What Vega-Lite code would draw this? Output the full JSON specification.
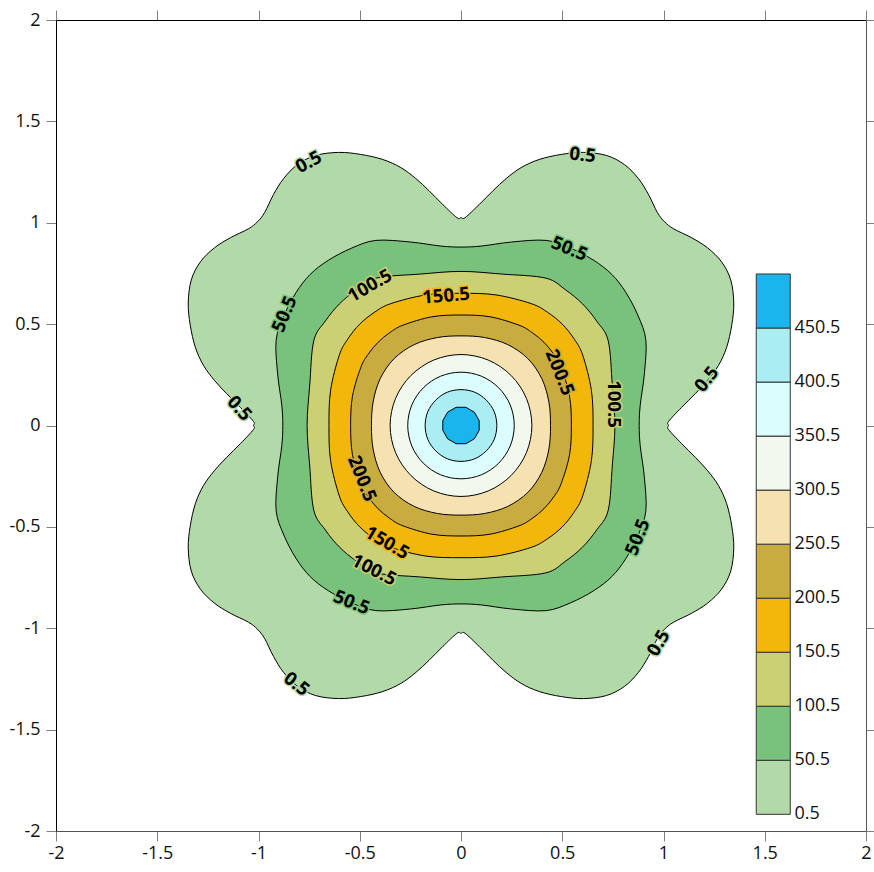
{
"$schema": "https://vega.github.io/schema/vega-lite/v6.json",
"width": 810, "height": 811,
"autosize": {"type": "none"},
"padding": {"left": 56, "top": 20, "right": 8, "bottom": 41},
"background": "white",
"config": {"view": {"stroke": null}, "font": "Open Sans",
  "axis": {"grid": false, "labelFont": "Open Sans", "labelFontSize": 18, "labelColor": "#111", "tickColor": "#808080", "tickSize": 10, "domainColor": "#000", "domainWidth": 1, "title": null}},
"datasets": {
"contours": [
{"l":0.5,"i":0,"x":1.025,"y":0},{"l":0.5,"i":1,"x":1.025,"y":0.02},{"l":0.5,"i":2,"x":1.089,"y":0.089},{"l":0.5,"i":3,"x":1.158,"y":0.158},{"l":0.5,"i":4,"x":1.218,"y":0.223},{"l":0.5,"i":5,"x":1.272,"y":0.297},{"l":0.5,"i":6,"x":1.312,"y":0.386},{"l":0.5,"i":7,"x":1.337,"y":0.495},{"l":0.5,"i":8,"x":1.347,"y":0.604},{"l":0.5,"i":9,"x":1.332,"y":0.718},{"l":0.5,"i":10,"x":1.287,"y":0.807},{"l":0.5,"i":11,"x":1.218,"y":0.876},{"l":0.5,"i":12,"x":1.139,"y":0.926},{"l":0.5,"i":13,"x":1.05,"y":0.97},{"l":0.5,"i":14,"x":1.005,"y":1.005},
{"l":0.5,"i":15,"x":0.97,"y":1.05},{"l":0.5,"i":16,"x":0.926,"y":1.139},{"l":0.5,"i":17,"x":0.876,"y":1.218},{"l":0.5,"i":18,"x":0.807,"y":1.287},{"l":0.5,"i":19,"x":0.718,"y":1.332},{"l":0.5,"i":20,"x":0.604,"y":1.347},{"l":0.5,"i":21,"x":0.495,"y":1.337},{"l":0.5,"i":22,"x":0.386,"y":1.312},{"l":0.5,"i":23,"x":0.297,"y":1.272},{"l":0.5,"i":24,"x":0.223,"y":1.218},{"l":0.5,"i":25,"x":0.158,"y":1.158},{"l":0.5,"i":26,"x":0.089,"y":1.089},{"l":0.5,"i":27,"x":0.02,"y":1.025},{"l":0.5,"i":28,"x":0,"y":1.025},
{"l":0.5,"i":29,"x":-0.02,"y":1.025},{"l":0.5,"i":30,"x":-0.089,"y":1.089},{"l":0.5,"i":31,"x":-0.158,"y":1.158},{"l":0.5,"i":32,"x":-0.223,"y":1.218},{"l":0.5,"i":33,"x":-0.297,"y":1.272},{"l":0.5,"i":34,"x":-0.386,"y":1.312},{"l":0.5,"i":35,"x":-0.495,"y":1.337},{"l":0.5,"i":36,"x":-0.604,"y":1.347},{"l":0.5,"i":37,"x":-0.718,"y":1.332},{"l":0.5,"i":38,"x":-0.807,"y":1.287},{"l":0.5,"i":39,"x":-0.876,"y":1.218},{"l":0.5,"i":40,"x":-0.926,"y":1.139},{"l":0.5,"i":41,"x":-0.97,"y":1.05},{"l":0.5,"i":42,"x":-1.005,"y":1.005},
{"l":0.5,"i":43,"x":-1.05,"y":0.97},{"l":0.5,"i":44,"x":-1.139,"y":0.926},{"l":0.5,"i":45,"x":-1.218,"y":0.876},{"l":0.5,"i":46,"x":-1.287,"y":0.807},{"l":0.5,"i":47,"x":-1.332,"y":0.718},{"l":0.5,"i":48,"x":-1.347,"y":0.604},{"l":0.5,"i":49,"x":-1.337,"y":0.495},{"l":0.5,"i":50,"x":-1.312,"y":0.386},{"l":0.5,"i":51,"x":-1.272,"y":0.297},{"l":0.5,"i":52,"x":-1.218,"y":0.223},{"l":0.5,"i":53,"x":-1.158,"y":0.158},{"l":0.5,"i":54,"x":-1.089,"y":0.089},{"l":0.5,"i":55,"x":-1.025,"y":0.02},{"l":0.5,"i":56,"x":-1.025,"y":0},
{"l":0.5,"i":57,"x":-1.025,"y":-0.02},{"l":0.5,"i":58,"x":-1.089,"y":-0.089},{"l":0.5,"i":59,"x":-1.158,"y":-0.158},{"l":0.5,"i":60,"x":-1.218,"y":-0.223},{"l":0.5,"i":61,"x":-1.272,"y":-0.297},{"l":0.5,"i":62,"x":-1.312,"y":-0.386},{"l":0.5,"i":63,"x":-1.337,"y":-0.495},{"l":0.5,"i":64,"x":-1.347,"y":-0.604},{"l":0.5,"i":65,"x":-1.332,"y":-0.718},{"l":0.5,"i":66,"x":-1.287,"y":-0.807},{"l":0.5,"i":67,"x":-1.218,"y":-0.876},{"l":0.5,"i":68,"x":-1.139,"y":-0.926},{"l":0.5,"i":69,"x":-1.05,"y":-0.97},{"l":0.5,"i":70,"x":-1.005,"y":-1.005},
{"l":0.5,"i":71,"x":-0.97,"y":-1.05},{"l":0.5,"i":72,"x":-0.926,"y":-1.139},{"l":0.5,"i":73,"x":-0.876,"y":-1.218},{"l":0.5,"i":74,"x":-0.807,"y":-1.287},{"l":0.5,"i":75,"x":-0.718,"y":-1.332},{"l":0.5,"i":76,"x":-0.604,"y":-1.347},{"l":0.5,"i":77,"x":-0.495,"y":-1.337},{"l":0.5,"i":78,"x":-0.386,"y":-1.312},{"l":0.5,"i":79,"x":-0.297,"y":-1.272},{"l":0.5,"i":80,"x":-0.223,"y":-1.218},{"l":0.5,"i":81,"x":-0.158,"y":-1.158},{"l":0.5,"i":82,"x":-0.089,"y":-1.089},{"l":0.5,"i":83,"x":-0.02,"y":-1.025},{"l":0.5,"i":84,"x":0,"y":-1.025},
{"l":0.5,"i":85,"x":0.02,"y":-1.025},{"l":0.5,"i":86,"x":0.089,"y":-1.089},{"l":0.5,"i":87,"x":0.158,"y":-1.158},{"l":0.5,"i":88,"x":0.223,"y":-1.218},{"l":0.5,"i":89,"x":0.297,"y":-1.272},{"l":0.5,"i":90,"x":0.386,"y":-1.312},{"l":0.5,"i":91,"x":0.495,"y":-1.337},{"l":0.5,"i":92,"x":0.604,"y":-1.347},{"l":0.5,"i":93,"x":0.718,"y":-1.332},{"l":0.5,"i":94,"x":0.807,"y":-1.287},{"l":0.5,"i":95,"x":0.876,"y":-1.218},{"l":0.5,"i":96,"x":0.926,"y":-1.139},{"l":0.5,"i":97,"x":0.97,"y":-1.05},{"l":0.5,"i":98,"x":1.005,"y":-1.005},
{"l":0.5,"i":99,"x":1.05,"y":-0.97},{"l":0.5,"i":100,"x":1.139,"y":-0.926},{"l":0.5,"i":101,"x":1.218,"y":-0.876},{"l":0.5,"i":102,"x":1.287,"y":-0.807},{"l":0.5,"i":103,"x":1.332,"y":-0.718},{"l":0.5,"i":104,"x":1.347,"y":-0.604},{"l":0.5,"i":105,"x":1.337,"y":-0.495},{"l":0.5,"i":106,"x":1.312,"y":-0.386},{"l":0.5,"i":107,"x":1.272,"y":-0.297},{"l":0.5,"i":108,"x":1.218,"y":-0.223},{"l":0.5,"i":109,"x":1.158,"y":-0.158},{"l":0.5,"i":110,"x":1.089,"y":-0.089},{"l":0.5,"i":111,"x":1.025,"y":-0.02},
{"l":50.5,"i":0,"x":0.88,"y":0},{"l":50.5,"i":1,"x":0.885,"y":0.1},{"l":50.5,"i":2,"x":0.905,"y":0.25},{"l":50.5,"i":3,"x":0.913,"y":0.42},{"l":50.5,"i":4,"x":0.875,"y":0.54},{"l":50.5,"i":5,"x":0.815,"y":0.655},{"l":50.5,"i":6,"x":0.745,"y":0.745},
{"l":50.5,"i":7,"x":0.655,"y":0.815},{"l":50.5,"i":8,"x":0.54,"y":0.875},{"l":50.5,"i":9,"x":0.42,"y":0.913},{"l":50.5,"i":10,"x":0.25,"y":0.905},{"l":50.5,"i":11,"x":0.1,"y":0.885},{"l":50.5,"i":12,"x":0,"y":0.88},
{"l":50.5,"i":13,"x":-0.1,"y":0.885},{"l":50.5,"i":14,"x":-0.25,"y":0.905},{"l":50.5,"i":15,"x":-0.42,"y":0.913},{"l":50.5,"i":16,"x":-0.54,"y":0.875},{"l":50.5,"i":17,"x":-0.655,"y":0.815},{"l":50.5,"i":18,"x":-0.745,"y":0.745},
{"l":50.5,"i":19,"x":-0.815,"y":0.655},{"l":50.5,"i":20,"x":-0.875,"y":0.54},{"l":50.5,"i":21,"x":-0.913,"y":0.42},{"l":50.5,"i":22,"x":-0.905,"y":0.25},{"l":50.5,"i":23,"x":-0.885,"y":0.1},{"l":50.5,"i":24,"x":-0.88,"y":0},
{"l":50.5,"i":25,"x":-0.885,"y":-0.1},{"l":50.5,"i":26,"x":-0.905,"y":-0.25},{"l":50.5,"i":27,"x":-0.913,"y":-0.42},{"l":50.5,"i":28,"x":-0.875,"y":-0.54},{"l":50.5,"i":29,"x":-0.815,"y":-0.655},{"l":50.5,"i":30,"x":-0.745,"y":-0.745},
{"l":50.5,"i":31,"x":-0.655,"y":-0.815},{"l":50.5,"i":32,"x":-0.54,"y":-0.875},{"l":50.5,"i":33,"x":-0.42,"y":-0.913},{"l":50.5,"i":34,"x":-0.25,"y":-0.905},{"l":50.5,"i":35,"x":-0.1,"y":-0.885},{"l":50.5,"i":36,"x":0,"y":-0.88},
{"l":50.5,"i":37,"x":0.1,"y":-0.885},{"l":50.5,"i":38,"x":0.25,"y":-0.905},{"l":50.5,"i":39,"x":0.42,"y":-0.913},{"l":50.5,"i":40,"x":0.54,"y":-0.875},{"l":50.5,"i":41,"x":0.655,"y":-0.815},{"l":50.5,"i":42,"x":0.745,"y":-0.745},
{"l":50.5,"i":43,"x":0.815,"y":-0.655},{"l":50.5,"i":44,"x":0.875,"y":-0.54},{"l":50.5,"i":45,"x":0.913,"y":-0.42},{"l":50.5,"i":46,"x":0.905,"y":-0.25},{"l":50.5,"i":47,"x":0.885,"y":-0.1},
{"l":100.5,"i":0,"x":0.76,"y":0},{"l":100.5,"i":1,"x":0.747,"y":0.2},{"l":100.5,"i":2,"x":0.727,"y":0.418},{"l":100.5,"i":3,"x":0.67,"y":0.515},{"l":100.5,"i":4,"x":0.6,"y":0.6},{"l":100.5,"i":5,"x":0.515,"y":0.67},{"l":100.5,"i":6,"x":0.418,"y":0.727},{"l":100.5,"i":7,"x":0.2,"y":0.747},
{"l":100.5,"i":8,"x":0,"y":0.76},{"l":100.5,"i":9,"x":-0.2,"y":0.747},{"l":100.5,"i":10,"x":-0.418,"y":0.727},{"l":100.5,"i":11,"x":-0.515,"y":0.67},{"l":100.5,"i":12,"x":-0.6,"y":0.6},{"l":100.5,"i":13,"x":-0.67,"y":0.515},{"l":100.5,"i":14,"x":-0.727,"y":0.418},{"l":100.5,"i":15,"x":-0.747,"y":0.2},
{"l":100.5,"i":16,"x":-0.76,"y":0},{"l":100.5,"i":17,"x":-0.747,"y":-0.2},{"l":100.5,"i":18,"x":-0.727,"y":-0.418},{"l":100.5,"i":19,"x":-0.67,"y":-0.515},{"l":100.5,"i":20,"x":-0.6,"y":-0.6},{"l":100.5,"i":21,"x":-0.515,"y":-0.67},{"l":100.5,"i":22,"x":-0.418,"y":-0.727},{"l":100.5,"i":23,"x":-0.2,"y":-0.747},
{"l":100.5,"i":24,"x":0,"y":-0.76},{"l":100.5,"i":25,"x":0.2,"y":-0.747},{"l":100.5,"i":26,"x":0.418,"y":-0.727},{"l":100.5,"i":27,"x":0.515,"y":-0.67},{"l":100.5,"i":28,"x":0.6,"y":-0.6},{"l":100.5,"i":29,"x":0.67,"y":-0.515},{"l":100.5,"i":30,"x":0.727,"y":-0.418},{"l":100.5,"i":31,"x":0.747,"y":-0.2},
{"l":150.5,"i":0,"x":0.652,"y":0},{"l":150.5,"i":1,"x":0.644,"y":0.173},{"l":150.5,"i":2,"x":0.601,"y":0.347},{"l":150.5,"i":3,"x":0.558,"y":0.428},{"l":150.5,"i":4,"x":0.5,"y":0.5},{"l":150.5,"i":5,"x":0.428,"y":0.558},{"l":150.5,"i":6,"x":0.347,"y":0.601},{"l":150.5,"i":7,"x":0.173,"y":0.644},
{"l":150.5,"i":8,"x":0,"y":0.652},{"l":150.5,"i":9,"x":-0.173,"y":0.644},{"l":150.5,"i":10,"x":-0.347,"y":0.601},{"l":150.5,"i":11,"x":-0.428,"y":0.558},{"l":150.5,"i":12,"x":-0.5,"y":0.5},{"l":150.5,"i":13,"x":-0.558,"y":0.428},{"l":150.5,"i":14,"x":-0.601,"y":0.347},{"l":150.5,"i":15,"x":-0.644,"y":0.173},
{"l":150.5,"i":16,"x":-0.652,"y":0},{"l":150.5,"i":17,"x":-0.644,"y":-0.173},{"l":150.5,"i":18,"x":-0.601,"y":-0.347},{"l":150.5,"i":19,"x":-0.558,"y":-0.428},{"l":150.5,"i":20,"x":-0.5,"y":-0.5},{"l":150.5,"i":21,"x":-0.428,"y":-0.558},{"l":150.5,"i":22,"x":-0.347,"y":-0.601},{"l":150.5,"i":23,"x":-0.173,"y":-0.644},
{"l":150.5,"i":24,"x":0,"y":-0.652},{"l":150.5,"i":25,"x":0.173,"y":-0.644},{"l":150.5,"i":26,"x":0.347,"y":-0.601},{"l":150.5,"i":27,"x":0.428,"y":-0.558},{"l":150.5,"i":28,"x":0.5,"y":-0.5},{"l":150.5,"i":29,"x":0.558,"y":-0.428},{"l":150.5,"i":30,"x":0.601,"y":-0.347},{"l":150.5,"i":31,"x":0.644,"y":-0.173},
{"l":200.5,"i":0,"x":0.545,"y":0},{"l":200.5,"i":1,"x":0.536,"y":0.144},{"l":200.5,"i":2,"x":0.495,"y":0.286},{"l":200.5,"i":3,"x":0.458,"y":0.352},{"l":200.5,"i":4,"x":0.41,"y":0.41},{"l":200.5,"i":5,"x":0.352,"y":0.458},{"l":200.5,"i":6,"x":0.286,"y":0.495},{"l":200.5,"i":7,"x":0.144,"y":0.536},
{"l":200.5,"i":8,"x":0,"y":0.545},{"l":200.5,"i":9,"x":-0.144,"y":0.536},{"l":200.5,"i":10,"x":-0.286,"y":0.495},{"l":200.5,"i":11,"x":-0.352,"y":0.458},{"l":200.5,"i":12,"x":-0.41,"y":0.41},{"l":200.5,"i":13,"x":-0.458,"y":0.352},{"l":200.5,"i":14,"x":-0.495,"y":0.286},{"l":200.5,"i":15,"x":-0.536,"y":0.144},
{"l":200.5,"i":16,"x":-0.545,"y":0},{"l":200.5,"i":17,"x":-0.536,"y":-0.144},{"l":200.5,"i":18,"x":-0.495,"y":-0.286},{"l":200.5,"i":19,"x":-0.458,"y":-0.352},{"l":200.5,"i":20,"x":-0.41,"y":-0.41},{"l":200.5,"i":21,"x":-0.352,"y":-0.458},{"l":200.5,"i":22,"x":-0.286,"y":-0.495},{"l":200.5,"i":23,"x":-0.144,"y":-0.536},
{"l":200.5,"i":24,"x":0,"y":-0.545},{"l":200.5,"i":25,"x":0.144,"y":-0.536},{"l":200.5,"i":26,"x":0.286,"y":-0.495},{"l":200.5,"i":27,"x":0.352,"y":-0.458},{"l":200.5,"i":28,"x":0.41,"y":-0.41},{"l":200.5,"i":29,"x":0.458,"y":-0.352},{"l":200.5,"i":30,"x":0.495,"y":-0.286},{"l":200.5,"i":31,"x":0.536,"y":-0.144},
{"l":250.5,"i":0,"x":0.442,"y":0},{"l":250.5,"i":1,"x":0.434,"y":0.116},{"l":250.5,"i":2,"x":0.399,"y":0.231},{"l":250.5,"i":3,"x":0.33,"y":0.33},{"l":250.5,"i":4,"x":0.231,"y":0.399},{"l":250.5,"i":5,"x":0.116,"y":0.434},
{"l":250.5,"i":6,"x":0,"y":0.442},{"l":250.5,"i":7,"x":-0.116,"y":0.434},{"l":250.5,"i":8,"x":-0.231,"y":0.399},{"l":250.5,"i":9,"x":-0.33,"y":0.33},{"l":250.5,"i":10,"x":-0.399,"y":0.231},{"l":250.5,"i":11,"x":-0.434,"y":0.116},
{"l":250.5,"i":12,"x":-0.442,"y":0},{"l":250.5,"i":13,"x":-0.434,"y":-0.116},{"l":250.5,"i":14,"x":-0.399,"y":-0.231},{"l":250.5,"i":15,"x":-0.33,"y":-0.33},{"l":250.5,"i":16,"x":-0.231,"y":-0.399},{"l":250.5,"i":17,"x":-0.116,"y":-0.434},
{"l":250.5,"i":18,"x":0,"y":-0.442},{"l":250.5,"i":19,"x":0.116,"y":-0.434},{"l":250.5,"i":20,"x":0.231,"y":-0.399},{"l":250.5,"i":21,"x":0.33,"y":-0.33},{"l":250.5,"i":22,"x":0.399,"y":-0.231},{"l":250.5,"i":23,"x":0.434,"y":-0.116},
{"l":300.5,"i":0,"x":0.35,"y":0},{"l":300.5,"i":1,"x":0.323,"y":0.134},{"l":300.5,"i":2,"x":0.247,"y":0.247},{"l":300.5,"i":3,"x":0.134,"y":0.323},{"l":300.5,"i":4,"x":0,"y":0.35},{"l":300.5,"i":5,"x":-0.134,"y":0.323},{"l":300.5,"i":6,"x":-0.247,"y":0.247},{"l":300.5,"i":7,"x":-0.323,"y":0.134},
{"l":300.5,"i":8,"x":-0.35,"y":0},{"l":300.5,"i":9,"x":-0.323,"y":-0.134},{"l":300.5,"i":10,"x":-0.247,"y":-0.247},{"l":300.5,"i":11,"x":-0.134,"y":-0.323},{"l":300.5,"i":12,"x":0,"y":-0.35},{"l":300.5,"i":13,"x":0.134,"y":-0.323},{"l":300.5,"i":14,"x":0.247,"y":-0.247},{"l":300.5,"i":15,"x":0.323,"y":-0.134},
{"l":350.5,"i":0,"x":0.263,"y":0},{"l":350.5,"i":1,"x":0.243,"y":0.101},{"l":350.5,"i":2,"x":0.186,"y":0.186},{"l":350.5,"i":3,"x":0.101,"y":0.243},{"l":350.5,"i":4,"x":0,"y":0.263},{"l":350.5,"i":5,"x":-0.101,"y":0.243},{"l":350.5,"i":6,"x":-0.186,"y":0.186},{"l":350.5,"i":7,"x":-0.243,"y":0.101},
{"l":350.5,"i":8,"x":-0.263,"y":0},{"l":350.5,"i":9,"x":-0.243,"y":-0.101},{"l":350.5,"i":10,"x":-0.186,"y":-0.186},{"l":350.5,"i":11,"x":-0.101,"y":-0.243},{"l":350.5,"i":12,"x":0,"y":-0.263},{"l":350.5,"i":13,"x":0.101,"y":-0.243},{"l":350.5,"i":14,"x":0.186,"y":-0.186},{"l":350.5,"i":15,"x":0.243,"y":-0.101},
{"l":400.5,"i":0,"x":0.177,"y":0},{"l":400.5,"i":1,"x":0.164,"y":0.068},{"l":400.5,"i":2,"x":0.125,"y":0.125},{"l":400.5,"i":3,"x":0.068,"y":0.164},{"l":400.5,"i":4,"x":0,"y":0.177},{"l":400.5,"i":5,"x":-0.068,"y":0.164},{"l":400.5,"i":6,"x":-0.125,"y":0.125},{"l":400.5,"i":7,"x":-0.164,"y":0.068},
{"l":400.5,"i":8,"x":-0.177,"y":0},{"l":400.5,"i":9,"x":-0.164,"y":-0.068},{"l":400.5,"i":10,"x":-0.125,"y":-0.125},{"l":400.5,"i":11,"x":-0.068,"y":-0.164},{"l":400.5,"i":12,"x":0,"y":-0.177},{"l":400.5,"i":13,"x":0.068,"y":-0.164},{"l":400.5,"i":14,"x":0.125,"y":-0.125},{"l":400.5,"i":15,"x":0.164,"y":-0.068}
],
"core": [
{"l":450.5,"i":0,"x":0.0898,"y":0.0241},{"l":450.5,"i":1,"x":0.0658,"y":0.0658},{"l":450.5,"i":2,"x":0.0241,"y":0.0898},{"l":450.5,"i":3,"x":-0.0241,"y":0.0898},{"l":450.5,"i":4,"x":-0.0658,"y":0.0658},{"l":450.5,"i":5,"x":-0.0898,"y":0.0241},
{"l":450.5,"i":6,"x":-0.0898,"y":-0.0241},{"l":450.5,"i":7,"x":-0.0658,"y":-0.0658},{"l":450.5,"i":8,"x":-0.0241,"y":-0.0898},{"l":450.5,"i":9,"x":0.0241,"y":-0.0898},{"l":450.5,"i":10,"x":0.0658,"y":-0.0658},{"l":450.5,"i":11,"x":0.0898,"y":-0.0241}
],
"labels": [
{"l":0.5,"x":-0.752,"y":1.3,"a":-28},{"l":0.5,"x":0.6,"y":1.335,"a":7},{"l":0.5,"x":1.213,"y":0.229,"a":-52},{"l":0.5,"x":-1.094,"y":0.085,"a":48},{"l":0.5,"x":0.975,"y":-1.073,"a":-60},{"l":0.5,"x":-0.812,"y":-1.275,"a":38},
{"l":50.5,"x":0.535,"y":0.872,"a":22},{"l":50.5,"x":-0.872,"y":0.55,"a":-68},{"l":50.5,"x":0.872,"y":-0.55,"a":-68},{"l":50.5,"x":-0.54,"y":-0.872,"a":22},
{"l":100.5,"x":-0.45,"y":0.69,"a":-30},{"l":100.5,"x":0.757,"y":0.106,"a":90},{"l":100.5,"x":-0.43,"y":-0.712,"a":27},
{"l":150.5,"x":-0.074,"y":0.64,"a":-5},{"l":150.5,"x":-0.365,"y":-0.578,"a":30},
{"l":200.5,"x":0.488,"y":0.262,"a":68},{"l":200.5,"x":-0.488,"y":-0.262,"a":68}
],
"bar": [
{"lo":0.5,"hi":50.5},{"lo":50.5,"hi":100.5},{"lo":100.5,"hi":150.5},{"lo":150.5,"hi":200.5},{"lo":200.5,"hi":250.5},{"lo":250.5,"hi":300.5},{"lo":300.5,"hi":350.5},{"lo":350.5,"hi":400.5},{"lo":400.5,"hi":450.5},{"lo":450.5,"hi":500.5}
]
},
"layer": [
{
"layer": [
{"data": {"name": "contours"},
 "mark": {"type": "line", "interpolate": "cardinal-closed", "stroke": "#000", "strokeWidth": 1},
 "encoding": {
  "x": {"field": "x", "type": "quantitative", "scale": {"domain": [-2, 2], "nice": false, "zero": false},
        "axis": {"orient": "bottom", "values": [-2,-1.5,-1,-0.5,0,0.5,1,1.5,2], "format": "~g", "labelExpr": "replace(datum.label, '−', '-')", "domainColor": "#555", "labelPadding": 3, "labelFlush": false}},
  "y": {"field": "y", "type": "quantitative", "scale": {"domain": [-2, 2], "nice": false, "zero": false},
        "axis": {"orient": "left", "values": [-2,-1.5,-1,-0.5,0,0.5,1,1.5,2], "format": "~g", "labelExpr": "replace(datum.label, '−', '-')", "labelPadding": 6, "labelFlush": false}},
  "fill": {"field": "l", "type": "nominal", "legend": null,
           "scale": {"domain": [0.5,50.5,100.5,150.5,200.5,250.5,300.5,350.5,400.5,450.5],
                     "range": ["#b2d9a8","#79c27b","#cbd075","#f2b70a","#c9ac40","#f6e1b1","#f1f9ef","#dbfdfd","#aaedf3","#1bb5ed"]}},
  "detail": {"field": "l", "type": "nominal"},
  "order": {"field": "i", "type": "quantitative"}
 }},
{"data": {"name": "core"},
 "mark": {"type": "line", "interpolate": "linear-closed", "stroke": "#000", "strokeWidth": 1, "fill": "#1bb5ed"},
 "encoding": {
  "x": {"field": "x", "type": "quantitative", "axis": {"orient": "top", "labels": false, "values": [-2,-1.5,-1,-0.5,0,0.5,1,1.5,2], "domainColor": "#000"}},
  "y": {"field": "y", "type": "quantitative", "axis": {"orient": "right", "labels": false, "values": [-2,-1.5,-1,-0.5,0,0.5,1,1.5,2], "tickSize": 8, "domainColor": "#555"}},
  "order": {"field": "i", "type": "quantitative"}
 }},
{"data": {"name": "labels"},
 "mark": {"type": "text", "font": "Open Sans", "fontSize": 18.5, "fontWeight": "bold", "align": "center", "baseline": "middle", "strokeWidth": 3},
 "encoding": {
  "x": {"field": "x", "type": "quantitative", "axis": null},
  "y": {"field": "y", "type": "quantitative", "axis": null},
  "angle": {"field": "a", "type": "quantitative", "scale": null},
  "text": {"field": "l", "type": "quantitative", "format": ".1f"},
  "stroke": {"field": "l", "type": "nominal", "legend": null,
           "scale": {"domain": [0.5,50.5,100.5,150.5,200.5,250.5,300.5,350.5,400.5,450.5],
                     "range": ["#b2d9a8","#79c27b","#cbd075","#f2b70a","#c9ac40","#f6e1b1","#f1f9ef","#dbfdfd","#aaedf3","#1bb5ed"]}},
  "fill": {"field": "l", "type": "nominal", "legend": null}
 }},
{"data": {"name": "labels"},
 "mark": {"type": "text", "font": "Open Sans", "fontSize": 18.5, "fontWeight": "bold", "align": "center", "baseline": "middle", "color": "#000"},
 "encoding": {
  "x": {"field": "x", "type": "quantitative", "axis": null},
  "y": {"field": "y", "type": "quantitative", "axis": null},
  "angle": {"field": "a", "type": "quantitative", "scale": null},
  "text": {"field": "l", "type": "quantitative", "format": ".1f"}
 }}
],
"resolve": {"axis": {"x": "independent", "y": "independent"}}
},
{
"layer": [
{"data": {"name": "bar"},
 "mark": {"type": "rect", "stroke": "#333", "strokeWidth": 1},
 "encoding": {
  "x": {"datum": 1.458, "type": "quantitative", "axis": null},
  "x2": {"datum": 1.626},
  "y": {"field": "lo", "type": "quantitative", "scale": {"domain": [-14.95, 735.55], "nice": false, "zero": false}, "axis": null},
  "y2": {"field": "hi"},
  "fill": {"field": "lo", "type": "nominal", "legend": null,
           "scale": {"domain": [0.5,50.5,100.5,150.5,200.5,250.5,300.5,350.5,400.5,450.5],
                     "range": ["#b2d9a8","#79c27b","#cbd075","#f2b70a","#c9ac40","#f6e1b1","#f1f9ef","#dbfdfd","#aaedf3","#1bb5ed"]}}
 }},
{"data": {"name": "bar"},
 "mark": {"type": "text", "font": "Open Sans", "fontSize": 18, "align": "left", "baseline": "middle", "color": "#111"},
 "encoding": {
  "x": {"datum": 1.647, "type": "quantitative", "axis": null},
  "y": {"field": "lo", "type": "quantitative", "axis": null},
  "text": {"field": "lo", "type": "quantitative", "format": ".1f"}
 }}
]
}
],
"resolve": {"scale": {"y": "independent"}}
}
